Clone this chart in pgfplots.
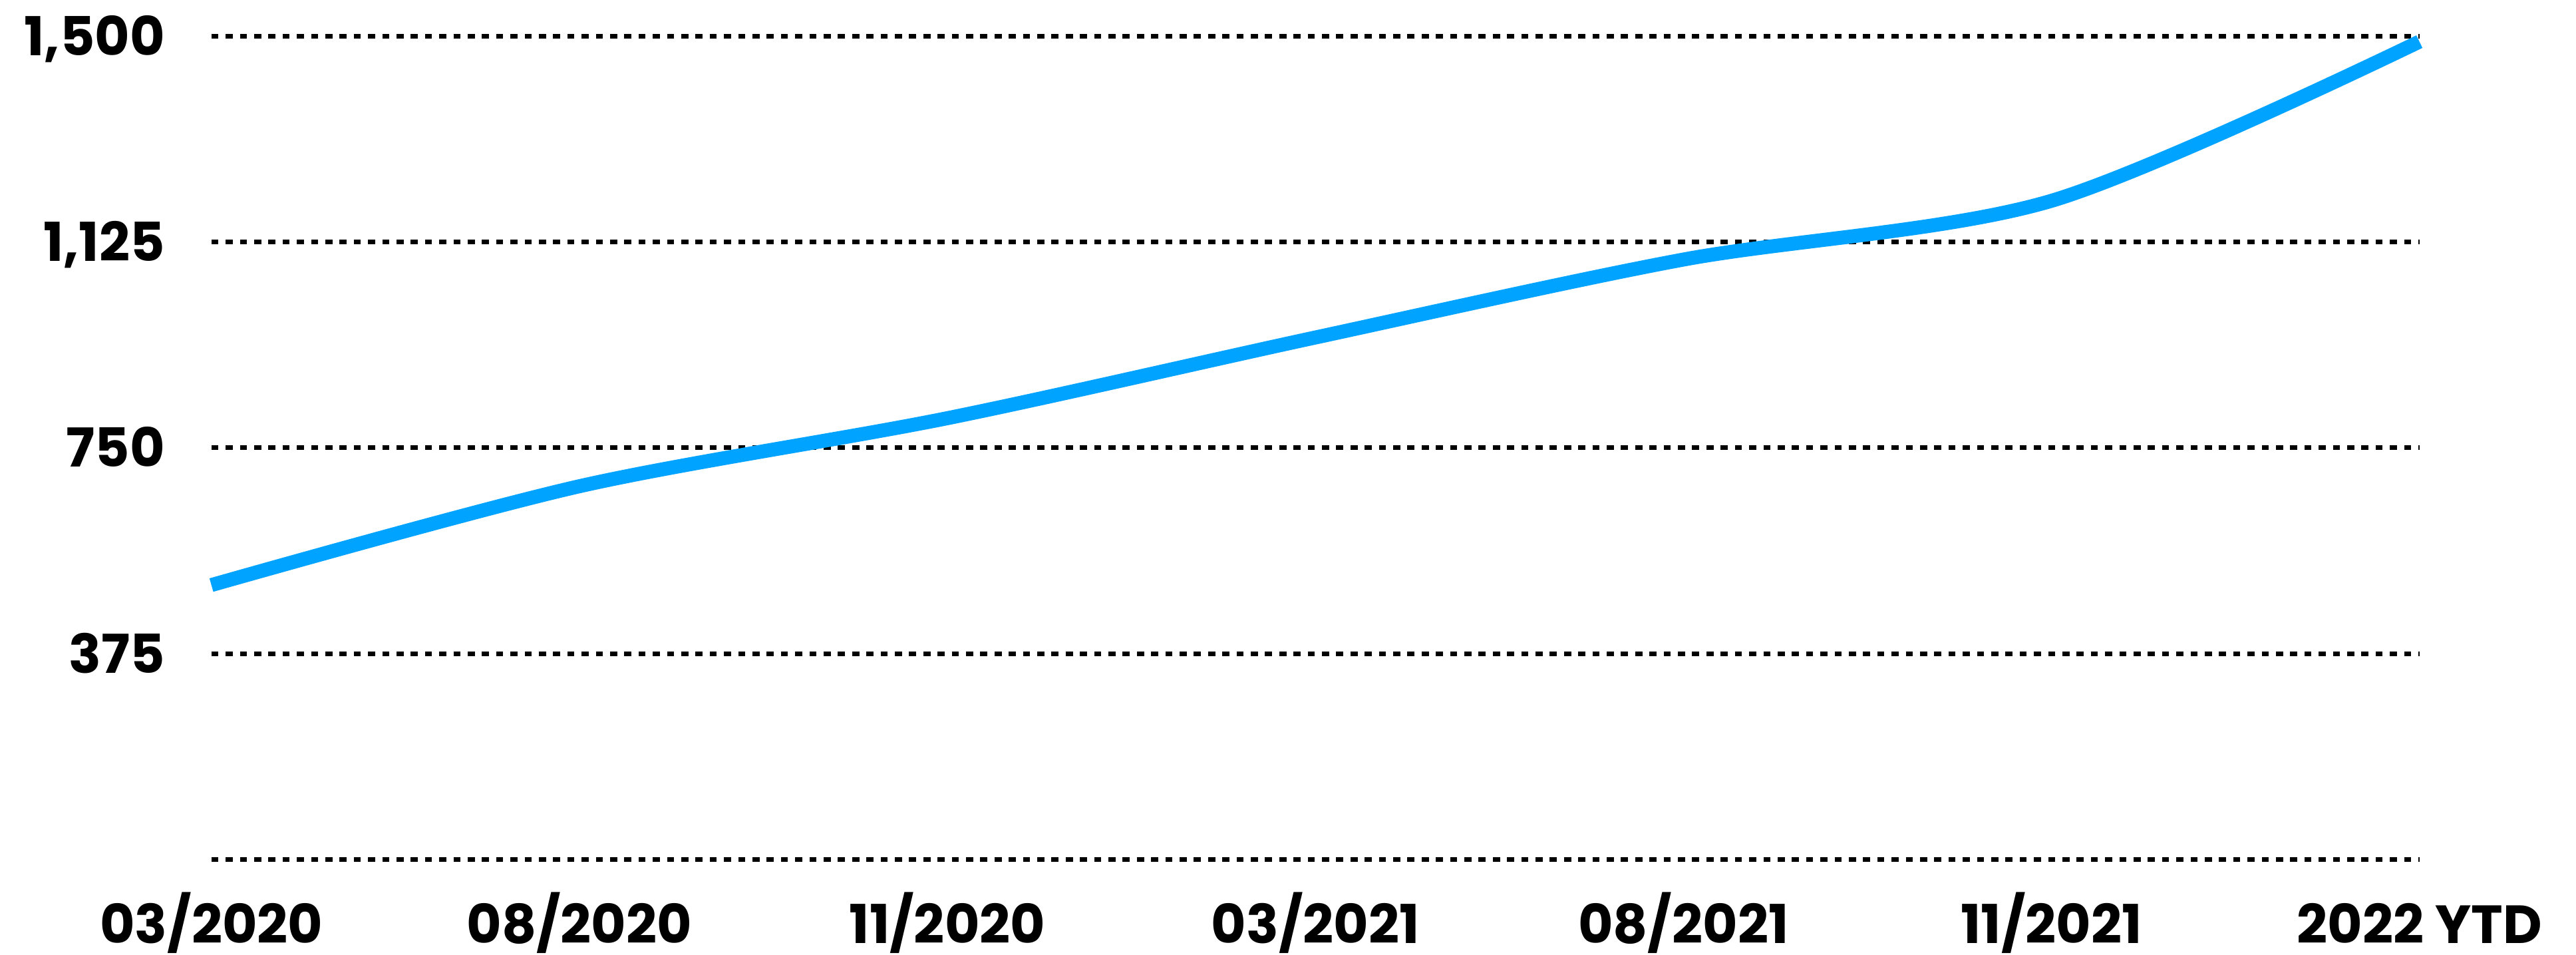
\documentclass[border=0pt]{standalone}
\usepackage{fontspec}
\setmainfont{Poppins}
\usepackage{pgfplots}
\pgfplotsset{compat=1.18}
\definecolor{lineblue}{HTML}{00A3FF}
\begin{document}
\begin{tikzpicture}
\begin{axis}[
  at={(0,0)}, anchor=south west,
  scale only axis,
  width=403.2pt, height=150.3pt,
  xmin=0, xmax=6, ymin=0, ymax=1500,
  xtick={0,1,2,3,4,5,6},
  xticklabels={03/2020,08/2020,11/2020,03/2021,08/2021,11/2021,2022 YTD},
  ytick={0,375,750,1125,1500},
  yticklabels={,375,750,{1,125},{1,500}},
  axis line style={draw=none},
  major tick length=0pt,
  ymajorgrids,
  grid style={black, line width=0.85pt, dash pattern=on 1.3pt off 1.3pt},
  xticklabel style={font=\fontsize{9.8}{12}\selectfont\bfseries, anchor=base, inner sep=0pt, yshift=-15.3pt},
  yticklabel style={font=\fontsize{9.8}{12}\selectfont\bfseries, anchor=base east, inner sep=0pt, xshift=-8.3pt, yshift=-3.5pt},
  clip=false,
]
\addplot[lineblue, line width=2.55pt, smooth] coordinates {
  (0,500) (1,680) (2,804) (3,951) (4,1093) (5,1200) (6,1490)
};
\end{axis}
\path (-38.6pt,-17.4pt) rectangle (431.8pt,156.9pt);
\end{tikzpicture}
\end{document}
